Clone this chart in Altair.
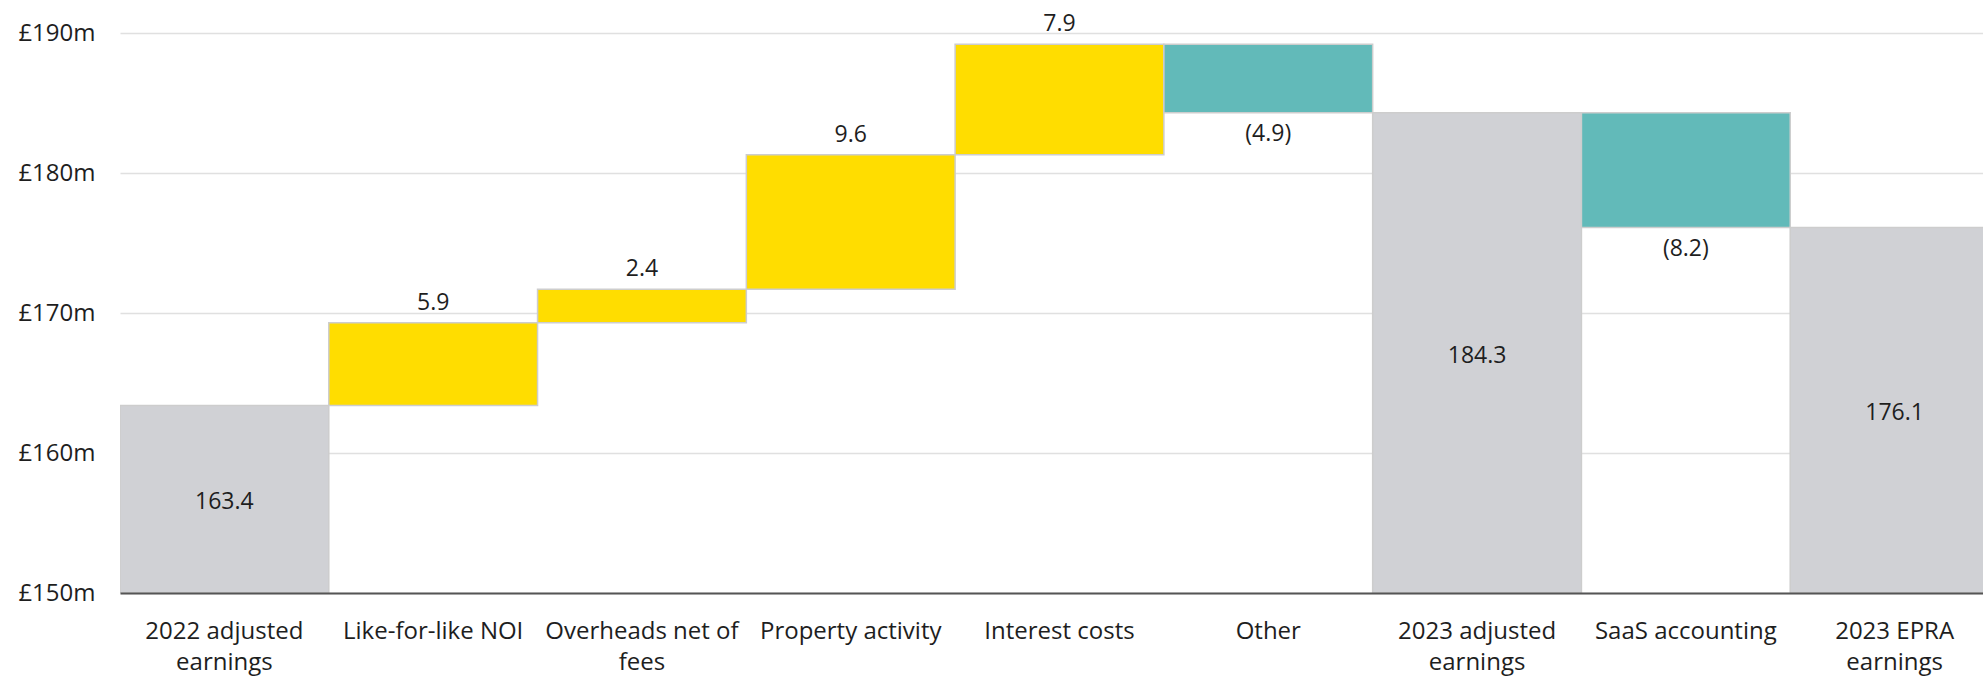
import altair as alt
import pandas as pd

categories = [
    "2022 adjusted earnings", "Like-for-like NOI", "Overheads net of fees",
    "Property activity", "Interest costs", "Other",
    "2023 adjusted earnings", "SaaS accounting", "2023 EPRA earnings",
]
amounts = [163.4, 5.9, 2.4, 9.6, 7.9, -4.9, 184.3, -8.2, 176.1]
kinds = ["total", "up", "up", "up", "up", "down", "total", "down", "total"]
y_ticks = [150, 160, 170, 180, 190]
y_domain = [150, 190]

colors = {"total": "#d0d1d5", "up": "#ffdd00", "down": "#62bab9"}

rows = []
running = 0.0
for cat, amt, kind in zip(categories, amounts, kinds):
    if kind == "total":
        start, end = y_domain[0], amt
        running = amt
        label = f"{amt:.1f}"
        label_y = (y_domain[0] + amt) / 2
    else:
        start = running
        end = round(running + amt, 1)
        running = end
        label = f"{amt:.1f}" if amt > 0 else f"({-amt:.1f})"
        label_y = end
    rows.append({"category": cat, "start": start, "end": end, "kind": kind,
                 "label": label, "label_y": label_y})
df = pd.DataFrame(rows)

FONT = "Open Sans"
TXT = "#1e1e1e"

x_enc = alt.X(
    "category:N", sort=categories,
    scale=alt.Scale(range=[0, 1879], paddingInner=0, paddingOuter=0),
    axis=alt.Axis(
        title=None, labelAngle=0, ticks=False, domain=True,
        domainColor="#555555", domainWidth=2, labelFontSize=24,
        labelColor=TXT, labelPadding=26, labelLineHeight=31,
        labelLimit=0, labelOverlap=False, labelBound=False, zindex=1,
        labelExpr=("length(datum.label) > 17 ? "
                   "[substring(datum.label, 0, lastindexof(datum.label, ' ')), "
                   "substring(datum.label, lastindexof(datum.label, ' ') + 1)] "
                   ": datum.label"),
    ),
)

y_scale = alt.Scale(domain=y_domain, nice=False, zero=False)

bars = alt.Chart(df).mark_bar(clip=True, stroke="#cdcdcd", strokeWidth=1.5).encode(
    x=x_enc,
    y=alt.Y("start:Q", scale=y_scale,
            axis=alt.Axis(values=y_ticks, title=None, grid=True,
                          gridColor="#e0e0e0", gridWidth=1.5, domain=False,
                          ticks=False, labelPadding=25, labelFontSize=24,
                          labelColor=TXT,
                          labelExpr="'£' + datum.value + 'm'")),
    y2="end:Q",
    color=alt.Color("kind:N",
                    scale=alt.Scale(domain=list(colors.keys()),
                                    range=list(colors.values())),
                    legend=None),
)

def labels(kind, dy):
    return alt.Chart(df).transform_filter(
        alt.datum.kind == kind
    ).mark_text(fontSize=23, color=TXT, baseline="middle", dy=dy).encode(
        x=alt.X("category:N", sort=categories),
        y=alt.Y("label_y:Q"),
        text="label:N",
    )

chart = alt.layer(
    bars, labels("total", 3), labels("up", -20), labels("down", 21)
).properties(
    width=1863, height=560,
    autosize=alt.AutoSizeParams(type="none"),
    padding={"left": 120, "top": 33, "right": 0, "bottom": 84},
).configure(font=FONT).configure_view(stroke=None)

chart.save("out.html", embed_options={"renderer": "svg", "actions": False})
